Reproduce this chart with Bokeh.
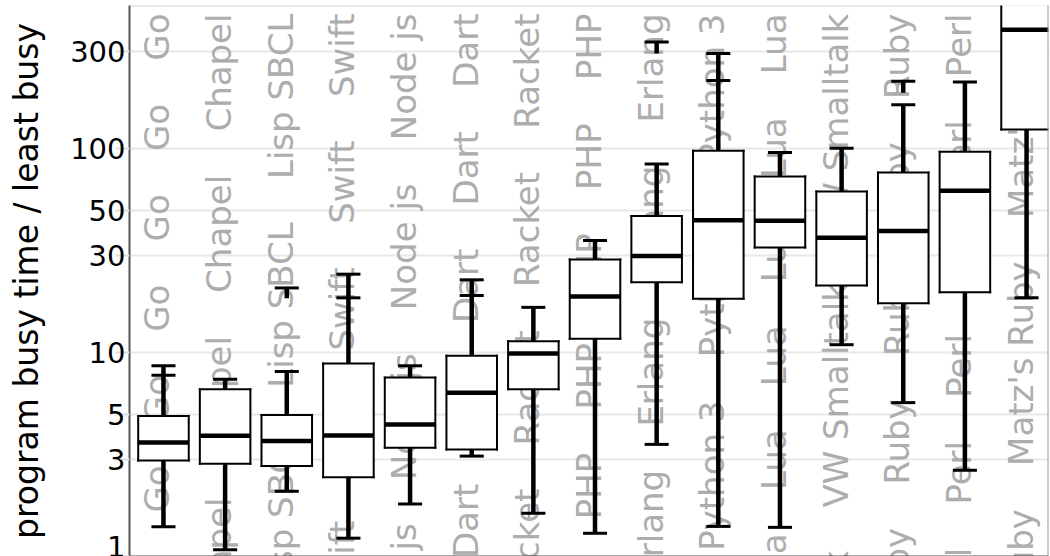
import math
from bokeh.plotting import figure
from bokeh.models import Range1d, FixedTicker, Span
from bokeh.embed import file_html
from bokeh.resources import INLINE
from bokeh.core.properties import value

# ---------------- data ----------------
categories = ["Go", "Chapel", "Lisp SBCL", "Swift", "Node js", "Dart", "Racket", "PHP",
              "Erlang", "Python 3", "Lua", "VW Smalltalk", "Ruby", "Perl", "Matz's Ruby"]
q1 = [2.96, 2.85, 2.78, 2.45, 3.42, 3.35, 6.62, 11.7, 22.2, 18.4, 32.8, 21.4, 17.5, 19.8, 124.5]
median = [3.63, 3.91, 3.69, 3.93, 4.45, 6.37, 9.92, 18.9, 29.8, 44.7, 44.4, 36.7, 39.6, 62.3, 385]
q3 = [4.89, 6.62, 4.95, 8.86, 7.55, 9.67, 11.4, 28.7, 46.9, 98.1, 73.3, 61.8, 76.7, 97.0, 800]
lower = [1.40, 1.08, 2.09, 1.23, 1.81, 3.11, 1.63, 1.30, 3.55, 1.405, 1.39, 10.95, 5.69, 2.65, 18.6]
upper = [8.63, 7.41, 8.09, 24.3, 8.63, 22.8, 16.7, 35.6, 84.4, 294, 96.2, 100.7, 165, 213, 1500]

# extra cap marks on whiskers
extra_cap_cat = ["Go", "Swift", "Dart", "Python 3"]
extra_cap_val = [7.76, 18.6, 19.1, 217]

# detached outlier segments (low, high) with cap at high end
out_cat = ["Lisp SBCL", "Erlang", "Ruby"]
out_low = [18.5, 294, 189]
out_high = [20.8, 335, 215]

tick_values = [1, 3, 5, 10, 30, 50, 100, 300]
tick_labels = ["1", "3", "5", "10", "30", "50", "100", "300"]

y_label = "program busy time / least busy"

# ---------------- figure ----------------
BOX_W = 0.82
CAP_W = 0.39
X_START, X_END = -0.551, 14.356
Y_TOP = 506
PX_PER_DECADE = 203.0
PX_PER_CAT = 61.65

p = figure(width=1050, height=556, y_axis_type="log",
           x_range=Range1d(X_START, X_END), y_range=Range1d(1, Y_TOP),
           output_backend="svg", toolbar_location=None,
           min_border_left=129, min_border_right=2, min_border_top=5, min_border_bottom=0)

p.background_fill_color = "white"
p.border_fill_color = "white"
p.outline_line_color = None

p.xgrid.visible = False
p.ygrid.ticker = FixedTicker(ticks=tick_values, minor_ticks=[])
p.ygrid.grid_line_color = "#e8e8e8"
p.ygrid.grid_line_width = 2

yax = p.yaxis[0]
yax.ticker = FixedTicker(ticks=tick_values, minor_ticks=[])
yax.major_label_overrides = {v: l for v, l in zip(tick_values, tick_labels)}
yax.major_label_text_font = "DejaVu Sans"
yax.major_label_text_font_size = "29px"
yax.major_label_text_color = "black"
yax.major_label_standoff = -10
yax.major_tick_in = 0
yax.major_tick_out = 14
yax.major_tick_line_color = "#dddddd"
yax.major_tick_line_width = 2
yax.minor_tick_line_color = None
yax.axis_line_color = "#555555"
yax.axis_line_width = 2
yax.axis_label = y_label
yax.axis_label_text_font = "DejaVu Sans"
yax.axis_label_text_font_size = "33px"
yax.axis_label_text_font_style = "normal"
yax.axis_label_text_color = "black"
yax.axis_label_standoff = 21

xax = p.xaxis[0]
xax.ticker = FixedTicker(ticks=[], minor_ticks=[])
xax.major_tick_in = 0
xax.major_tick_out = 0
xax.minor_tick_line_color = None
xax.major_label_text_font_size = "0px"
xax.major_label_standoff = 0
xax.axis_line_color = "#555555"
xax.axis_line_width = 2

# frame top (under the boxes) and right edge
p.add_layout(Span(location=Y_TOP, dimension="width", line_color="#d8d8d8",
                  line_width=2, level="underlay"))
p.add_layout(Span(location=X_END, dimension="height", line_color="#9a9a9a",
                  line_width=2))

idx = list(range(len(categories)))
pos = {c: i for i, c in enumerate(categories)}
left = [i - BOX_W / 2 for i in idx]
right = [i + BOX_W / 2 for i in idx]

# repeated gray labels (behind the boxes); non-breaking spaces so SVG keeps the gaps
GAP = "\u00a0" * 4
label_text = [GAP.join([c] * 12) for c in categories]
text_x = [i - 6.0 / PX_PER_CAT for i in idx]
text_top = Y_TOP / 10 ** (8.0 / PX_PER_DECADE)          # text ends 8 px below frame top
p.text(x=text_x, y=[text_top] * len(idx), text=label_text, angle=math.pi / 2,
       text_align="right", text_baseline="alphabetic",
       text_font=value("DejaVu Sans"), text_font_size="34px", text_color="#adadad")

# whiskers
p.segment(x0=idx, y0=q3, x1=idx, y1=upper, line_color="black", line_width=4.5)
p.segment(x0=idx, y0=q1, x1=idx, y1=lower, line_color="black", line_width=4.5)
# caps
p.segment(x0=[i - CAP_W / 2 for i in idx], y0=upper, x1=[i + CAP_W / 2 for i in idx], y1=upper,
          line_color="black", line_width=3)
p.segment(x0=[i - CAP_W / 2 for i in idx], y0=lower, x1=[i + CAP_W / 2 for i in idx], y1=lower,
          line_color="black", line_width=3)
# extra caps
ex = [pos[c] for c in extra_cap_cat]
p.segment(x0=[i - CAP_W / 2 for i in ex], y0=extra_cap_val, x1=[i + CAP_W / 2 for i in ex],
          y1=extra_cap_val, line_color="black", line_width=3)
# detached outlier segments
ox = [pos[c] for c in out_cat]
p.segment(x0=ox, y0=out_low, x1=ox, y1=out_high, line_color="black", line_width=4.5)
p.segment(x0=[i - CAP_W / 2 for i in ox], y0=out_high, x1=[i + CAP_W / 2 for i in ox],
          y1=out_high, line_color="black", line_width=3)

# boxes: white fill, then the edges (top edge only where it lies inside the plot)
p.vbar(x=idx, width=BOX_W, bottom=q1, top=q3, fill_color="white", line_color=None)
p.segment(x0=left, y0=q1, x1=left, y1=q3, line_color="black", line_width=2, line_cap="square")
p.segment(x0=right, y0=q1, x1=right, y1=q3, line_color="black", line_width=2, line_cap="square")
p.segment(x0=left, y0=q1, x1=right, y1=q1, line_color="black", line_width=2, line_cap="square")
vis = [k for k in idx if q3[k] <= Y_TOP]
p.segment(x0=[left[k] for k in vis], y0=[q3[k] for k in vis],
          x1=[right[k] for k in vis], y1=[q3[k] for k in vis],
          line_color="black", line_width=2, line_cap="square")
# medians
p.segment(x0=left, y0=median, x1=right, y1=median, line_color="black", line_width=4.5)

open("out.html", "w").write(file_html(p, INLINE))
